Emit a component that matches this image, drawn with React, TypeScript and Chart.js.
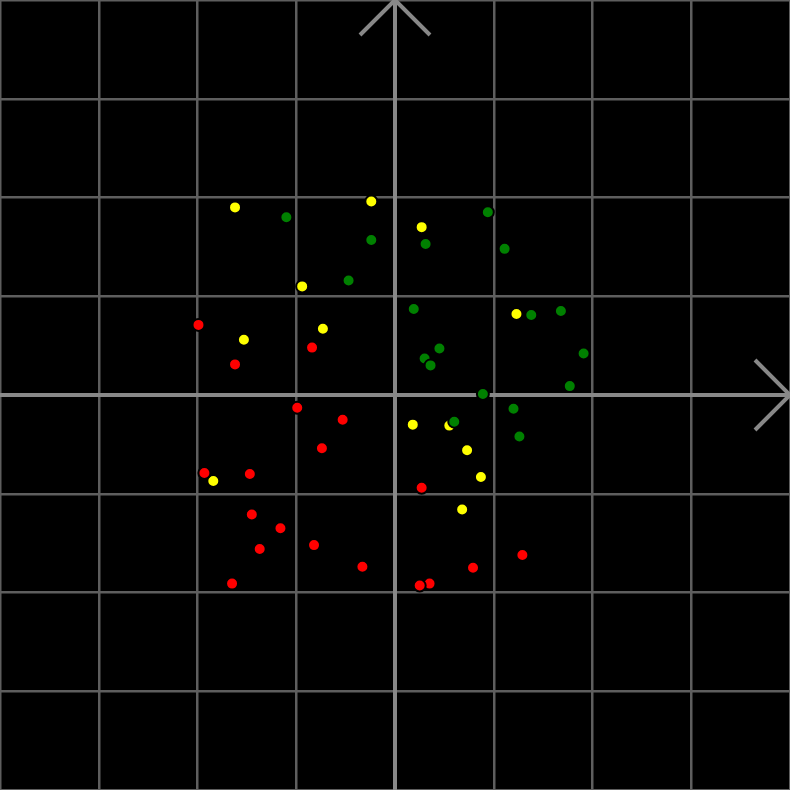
import React, { useEffect, useRef } from "react";
import { Chart, registerables } from "chart.js";

Chart.register(...registerables);

const redX = [-1.99, -1.62, -0.84, -0.99, -0.53, -0.74, -1.93, -1.47, -1.45, -1.16, -1.37, -0.82, -0.33, -1.65, 0.27, 1.29, 0.79, 0.35, 0.25];
const redY = [0.71, 0.31, 0.48, -0.13, -0.25, -0.54, -0.79, -0.8, -1.21, -1.35, -1.56, -1.52, -1.74, -1.91, -0.94, -1.62, -1.75, -1.91, -1.93];

const yellowX = [-1.62, -0.24, -0.94, -0.73, -1.53, -1.84, 0.27, 1.23, 0.18, 0.55, 0.73, 0.87, 0.68];
const yellowY = [1.9, 1.96, 1.1, 0.67, 0.56, -0.87, 1.7, 0.82, -0.3, -0.31, -0.56, -0.83, -1.16];

const greenX = [-1.1, -0.24, -0.47, 0.94, 0.31, 1.11, 0.19, 1.38, 1.68, 0.45, 0.3, 0.36, 1.91, 1.77, 0.89, 1.2, 0.6, 1.26];
const greenY = [1.8, 1.57, 1.16, 1.85, 1.53, 1.48, 0.87, 0.81, 0.85, 0.47, 0.37, 0.3, 0.42, 0.09, 0.01, -0.14, -0.27, -0.42];

const axisMin = -4;
const axisMax = 4;

const toPoints = (xs: number[], ys: number[]) => xs.map((x, i) => ({ x, y: ys[i] }));

const bgPlugin = {
  id: "bg",
  beforeDraw(chart: any) {
    const { ctx, width, height } = chart;
    ctx.save();
    ctx.fillStyle = "#000";
    ctx.fillRect(0, 0, width, height);
    ctx.restore();
  },
};

const axesPlugin = {
  id: "axesArrows",
  beforeDatasetsDraw(chart: any) {
    const { ctx, chartArea, scales } = chart;
    const x0 = scales.x.getPixelForValue(0);
    const y0 = scales.y.getPixelForValue(0);
    const a = 35;
    ctx.save();
    ctx.strokeStyle = "#888888";
    ctx.lineWidth = 4;
    ctx.lineCap = "butt";
    ctx.beginPath();
    ctx.moveTo(chartArea.left, y0);
    ctx.lineTo(chartArea.right, y0);
    ctx.moveTo(x0, chartArea.bottom);
    ctx.lineTo(x0, chartArea.top);
    ctx.stroke();
    ctx.beginPath();
    ctx.moveTo(x0 - a, chartArea.top + a);
    ctx.lineTo(x0, chartArea.top);
    ctx.lineTo(x0 + a, chartArea.top + a);
    ctx.moveTo(chartArea.right - a, y0 - a);
    ctx.lineTo(chartArea.right, y0);
    ctx.lineTo(chartArea.right - a, y0 + a);
    ctx.stroke();
    ctx.restore();
  },
};

export default function App() {
  const ref = useRef<HTMLCanvasElement | null>(null);
  useEffect(() => {
    if (!ref.current) return;
    const pt = { pointRadius: 6, pointHoverRadius: 6, borderWidth: 2, borderColor: "#000000", showLine: false };
    const chart = new Chart(ref.current, {
      type: "scatter",
      data: {
        datasets: [
          { label: "yellow", data: toPoints(yellowX, yellowY), backgroundColor: "#ffff00", order: 3, ...pt },
          { label: "green", data: toPoints(greenX, greenY), backgroundColor: "#008000", order: 2, ...pt },
          { label: "red", data: toPoints(redX, redY), backgroundColor: "#ff0000", order: 1, ...pt },
        ],
      },
      options: {
        animation: false,
        responsive: false,
        maintainAspectRatio: false,
        layout: { padding: 0, autoPadding: false },
        plugins: { legend: { display: false }, tooltip: { enabled: false } },
        scales: {
          x: {
            type: "linear",
            min: axisMin,
            max: axisMax,
            ticks: { display: false, stepSize: 1 },
            border: { display: false },
            grid: { color: "#5e5e5e", lineWidth: 2.5, drawTicks: false },
          },
          y: {
            type: "linear",
            min: axisMin,
            max: axisMax,
            ticks: { display: false, stepSize: 1 },
            border: { display: false },
            grid: { color: "#5e5e5e", lineWidth: 2.5, drawTicks: false },
          },
        },
      },
      plugins: [bgPlugin, axesPlugin],
    });
    return () => chart.destroy();
  }, []);
  return (
    <div style={{ position: "fixed", left: 0, top: 0, width: 790, height: 790, background: "#000" }}>
      <canvas ref={ref} width={790} height={790} style={{ display: "block", width: 790, height: 790 }} />
    </div>
  );
}
